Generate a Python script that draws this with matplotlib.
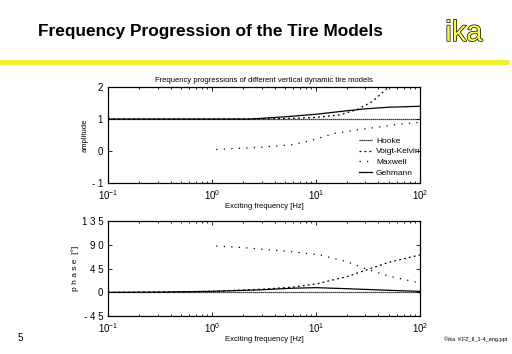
import matplotlib
matplotlib.use('Agg')
import matplotlib.pyplot as plt
import matplotlib.patheffects as pe
from matplotlib.lines import Line2D
import numpy as np

plt.rcParams['font.family'] = ['Liberation Sans', 'DejaVu Sans']
plt.rcParams['mathtext.fontset'] = 'custom'
plt.rcParams['mathtext.rm'] = 'Liberation Sans'
plt.rcParams['mathtext.default'] = 'regular'

# --- data ---
f_hooke = [0.1, 100]
amp_hooke = [1.0, 1.0]
ph_hooke = [0.0, 0.0]

f_vk = [0.1, 1, 3, 5, 10, 17, 25, 35, 50, 70]
amp_vk = [1.0, 1.0, 1.005, 1.015, 1.05, 1.13, 1.3, 1.55, 2.0, 2.5]
f_vk_ph = [0.1, 1, 3, 6, 10, 20, 30, 50, 100]
ph_vk = [0, 2, 6, 10, 16, 30, 42, 57, 71]

f_mx = [1.1, 3, 6, 9, 15, 25, 38, 60, 100]
amp_mx = [0.05, 0.12, 0.2, 0.33, 0.55, 0.66, 0.74, 0.83, 0.9]
f_mx_ph = [1.1, 2, 6, 11, 20, 30, 50, 100]
ph_mx = [88, 85, 77, 71, 58, 45, 31, 18]

f_gm = [0.1, 1, 2.3, 5, 10, 20, 30, 50, 100]
amp_gm = [1.0, 1.0, 1.0, 1.07, 1.15, 1.26, 1.32, 1.37, 1.4]
f_gm_ph = [0.1, 0.3, 1, 3, 6, 10, 20, 50, 100]
ph_gm = [0, 0.5, 2, 5, 8, 9, 7, 4, 2]

labels = ['Hooke', 'Voigt-Kelvin', 'Maxwell', 'Gehmann']
amp_ticks = [-1, 0, 1, 2]
amp_ticklabels = ['- 1', '0', '1', '2']
ph_ticks = [-45, 0, 45, 90, 135]
ph_ticklabels = ['- 4 5', '0', '4 5', '9 0', '1 3 5']

styles = {'Hooke': dict(ls=(0, (1, 0.6)), lw=0.9),
          'Voigt-Kelvin': dict(ls=(0, (1.5, 2.5)), lw=0.9),
          'Maxwell': dict(ls=(0, (1, 5)), lw=0.9),
          'Gehmann': dict(ls='-', lw=0.9)}

fig = plt.figure(figsize=(5.12, 3.54), dpi=100)
fig.patch.set_facecolor('white')

# slide header
fig.text(0.074, 0.910, 'Frequency Progression of the Tire Models', fontsize=12.4,
         fontweight='bold', ha='left', va='center')
fig.text(0.906, 0.907, 'ika', fontsize=21, color='#ffff33', ha='center', va='center',
         path_effects=[pe.withStroke(linewidth=1.0, foreground='black')])
fig.add_artist(Line2D([0.0, 0.99], [0.825, 0.825], color='#f2ee2c', lw=3.5,
                      solid_capstyle='round'))
fig.text(0.035, 0.045, '5', fontsize=7, ha='left', va='center')
fig.text(0.868, 0.042, '©ika  KFZ_II_1-4_eng.ppt', fontsize=4, ha='left', va='center')


def style_axes(ax):
    ax.set_xscale('log')
    ax.set_xlim(0.1, 100)
    ax.tick_params(which='both', direction='in', top=True, right=True,
                   labelsize=7, width=0.6)
    ax.tick_params(which='major', length=3)
    ax.tick_params(which='minor', length=1.5)
    for s in ax.spines.values():
        s.set_linewidth(0.9)
    ax.set_xticks([0.1, 1, 10, 100])
    ax.set_xticklabels([r'$10^{-1}$', r'$10^{0}$', r'$10^{1}$', r'$10^{2}$'])
    ax.set_xlabel('Exciting frequency [Hz]', fontsize=5.5, labelpad=1)


ax1 = fig.add_axes([0.211, 0.483, 0.609, 0.271])
ax1.plot(f_hooke, amp_hooke, color='black', label=labels[0], **styles['Hooke'])
ax1.plot(f_vk, amp_vk, color='black', label=labels[1], **styles['Voigt-Kelvin'])
ax1.plot(f_mx, amp_mx, color='black', label=labels[2], **styles['Maxwell'])
ax1.plot(f_gm, amp_gm, color='black', label=labels[3], **styles['Gehmann'])
style_axes(ax1)
ax1.set_ylim(-1, 2)
ax1.set_yticks(amp_ticks)
ax1.set_yticklabels(amp_ticklabels)
ax1.set_ylabel('amplitude', fontsize=5.5, labelpad=2)
ax1.set_title('Frequency progressions of different vertical dynamic tire models',
              fontsize=5.5, pad=4)
ax1.legend(loc='lower left', bbox_to_anchor=(0.79, 0.02), frameon=False, fontsize=6,
           handlelength=1.6, handletextpad=0.5, labelspacing=0.35, borderpad=0)

ax2 = fig.add_axes([0.211, 0.107, 0.609, 0.268])
ax2.plot(f_hooke, ph_hooke, color='black', **styles['Hooke'])
ax2.plot(f_vk_ph, ph_vk, color='black', **styles['Voigt-Kelvin'])
ax2.plot(f_mx_ph, ph_mx, color='black', **styles['Maxwell'])
ax2.plot(f_gm_ph, ph_gm, color='black', **styles['Gehmann'])
style_axes(ax2)
ax2.set_ylim(-45, 135)
ax2.set_yticks(ph_ticks)
ax2.set_yticklabels(ph_ticklabels)
ax2.set_ylabel('p h a s e  [°]', fontsize=6, labelpad=2)

fig.savefig('out.png', dpi=100)
